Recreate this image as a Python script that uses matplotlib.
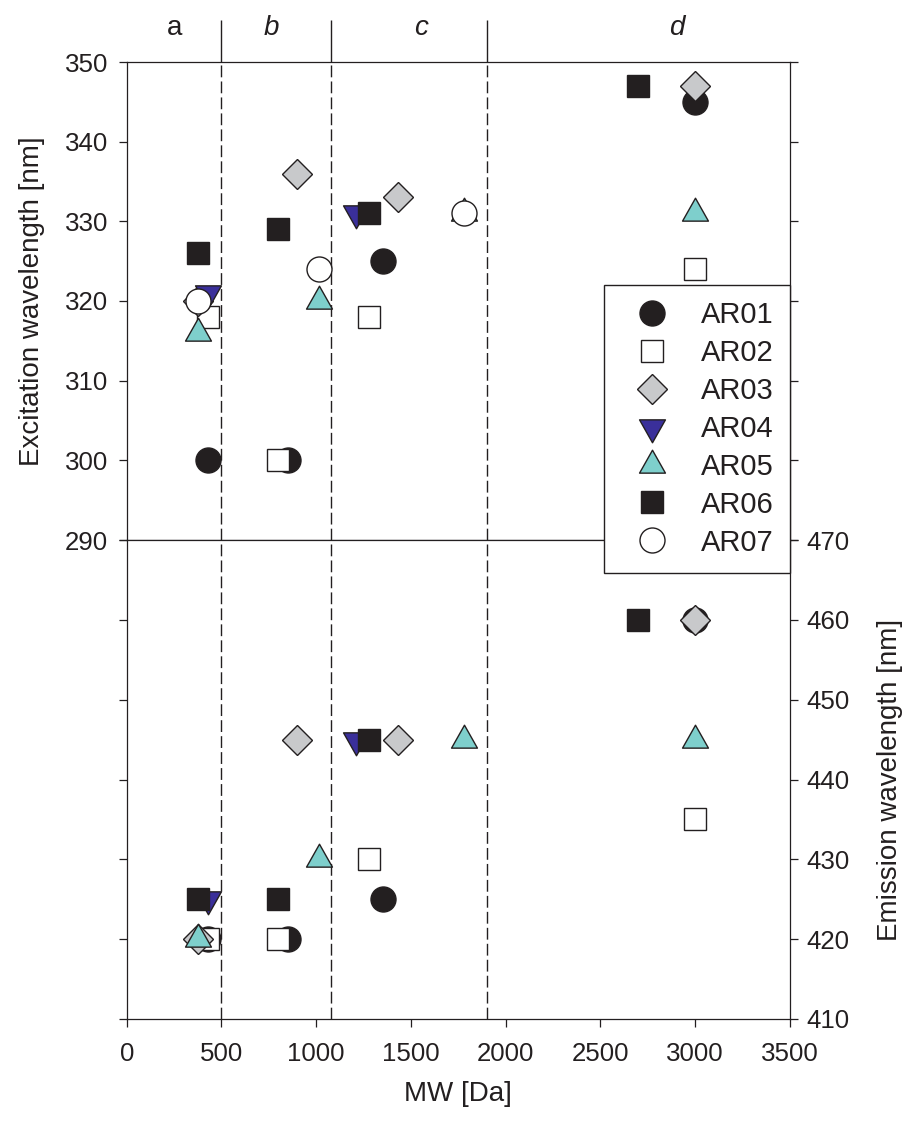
import matplotlib.pyplot as plt
from matplotlib.path import Path

plt.rcParams['font.family'] = ['Liberation Sans', 'DejaVu Sans']
ink = '#231f20'

# molecular weight [Da] and wavelengths [nm] for each sample
ar01_mw = [430, 850, 1350, 3000]
ar01_ex = [300, 300, 325, 345]
ar01_em = [420, 420, 425, 460]

ar02_mw = [430, 800, 1280, 3000]
ar02_ex = [318, 300, 318, 324]
ar02_em = [420, 420, 430, 435]

ar03_mw = [375, 900, 1430, 3000]
ar03_ex = [320, 336, 333, 347]
ar03_em = [420, 445, 445, 460]

ar04_mw = [430, 1210]
ar04_ex = [321, 331]
ar04_em = [425, 445]

ar05_mw = [375, 1015, 1780, 3000]
ar05_ex = [316, 320, 331, 331]
ar05_em = [420, 430, 445, 445]

ar06_mw = [375, 800, 1280, 2700]
ar06_ex = [326, 329, 331, 347]
ar06_em = [425, 425, 445, 460]

ar07_mw = [375, 1015, 1780]
ar07_ex = [320, 324, 331]

bounds = [500, 1080, 1900]
region_x = [250, 765, 1555, 2905]
region_txt = ['a', 'b', 'c', 'd']

# triangles centred on their centroid
tri_up = Path([(0, 1.18), (-1, -0.59), (1, -0.59), (0, 1.18)], closed=True)
tri_dn = Path([(0, -1.18), (-1, 0.59), (1, 0.59), (0, -1.18)], closed=True)

styles = {
    'AR01': dict(marker='o', ms=18, mfc=ink),
    'AR02': dict(marker='s', ms=16.2, mfc='white'),
    'AR03': dict(marker='D', ms=15.5, mfc='#c8c9cb'),
    'AR04': dict(marker=tri_dn, ms=22, mfc='#3a2f9a'),
    'AR05': dict(marker=tri_up, ms=22, mfc='#7ecfcc'),
    'AR06': dict(marker='s', ms=16.2, mfc=ink),
    'AR07': dict(marker='o', ms=18, mfc='white'),
}

top = {'AR01': (ar01_mw, ar01_ex), 'AR02': (ar02_mw, ar02_ex), 'AR03': (ar03_mw, ar03_ex),
       'AR04': (ar04_mw, ar04_ex), 'AR05': (ar05_mw, ar05_ex), 'AR06': (ar06_mw, ar06_ex),
       'AR07': (ar07_mw, ar07_ex)}
bottom = {'AR01': (ar01_mw, ar01_em), 'AR02': (ar02_mw, ar02_em), 'AR03': (ar03_mw, ar03_em),
          'AR04': (ar04_mw, ar04_em), 'AR05': (ar05_mw, ar05_em), 'AR06': (ar06_mw, ar06_em)}

fig = plt.figure(figsize=(9.06, 11.23), dpi=100)
left, width = 126.7 / 906, (790 - 126.7) / 906
ax1 = fig.add_axes([left, 1 - 540 / 1123, width, 478 / 1123])
ax2 = fig.add_axes([left, 1 - 1019 / 1123, width, 479 / 1123])

for ax in (ax1, ax2):
    for b in bounds:
        ax.axvline(b, color=ink, lw=1, ls=(0, (8.5, 3)), zorder=1)
    ax.set_xlim(0, 3500)
    for s in ax.spines.values():
        s.set_linewidth(0.9)
        s.set_color(ink)
    ax.tick_params(direction='out', length=5.5, width=0.9, color=ink,
                   labelsize=18.6, labelcolor=ink)

handles = []
for name, (x, y) in top.items():
    h, = ax1.plot(x, y, ls='none', mec=ink, mew=1, label=name, **styles[name])
    handles.append(h)
for name, (x, y) in bottom.items():
    ax2.plot(x, y, ls='none', mec=ink, mew=1, **styles[name])

ax1.set_ylim(290, 350)
ax1.set_yticks(range(290, 351, 10))
ax1.tick_params(axis='x', bottom=False, labelbottom=False)
ax1.tick_params(axis='y', left=True, right=True, labelleft=True, labelright=False, pad=8)
ax1.set_ylabel('Excitation wavelength [nm]', fontsize=20, color=ink, labelpad=14)

ax2.set_ylim(410, 470)
ax2.set_yticks(range(410, 471, 10))
ax2.set_xticks(range(0, 3501, 500))
ax2.tick_params(axis='y', left=True, right=True, labelleft=False, labelright=True, pad=6)
ax2.tick_params(axis='x', pad=11)
ax2.yaxis.set_label_position('right')
ax2.set_ylabel('Emission wavelength [nm]', fontsize=20, color=ink, labelpad=20)
ax2.set_xlabel('MW [Da]', fontsize=20, color=ink, labelpad=11)

ax1.vlines(bounds, 350, 355.3, colors=ink, lw=1, clip_on=False)
for x, t in zip(region_x, region_txt):
    ax1.text(x, 354.3, t, ha='center', va='center', fontsize=20, color=ink,
             style='normal' if t == 'a' else 'italic', clip_on=False)

leg = fig.legend(handles, [h.get_label() for h in handles], loc='upper right',
                 bbox_to_anchor=(790 / 906, 1 - 285 / 1123), borderaxespad=0,
                 fontsize=21, numpoints=1, fancybox=False, framealpha=1,
                 edgecolor=ink, borderpad=0.55, labelspacing=0.34,
                 handlelength=2.2, handletextpad=0.6)
leg.get_frame().set_linewidth(1)
for t in leg.get_texts():
    t.set_color(ink)

fig.savefig('out.png', dpi=100)
